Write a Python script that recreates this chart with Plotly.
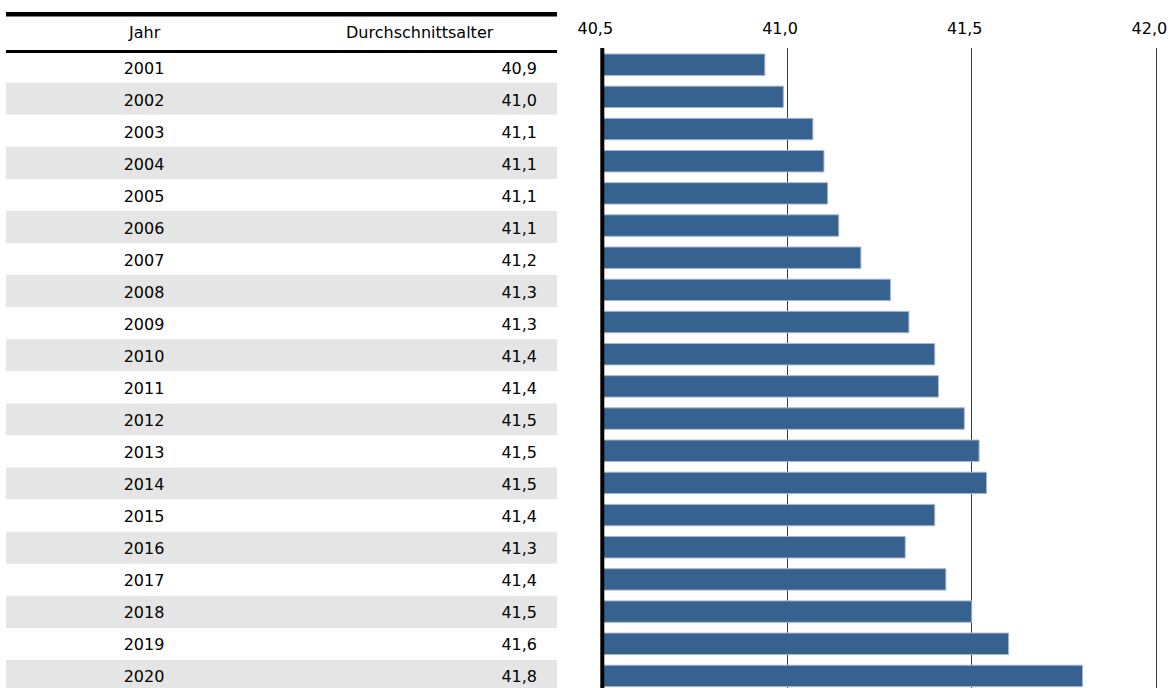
import plotly.graph_objects as go

# ---- data ----
years = [str(y) for y in range(2001, 2021)]
avg_age = [40.94, 40.99, 41.07, 41.10, 41.11, 41.14, 41.20, 41.28, 41.33, 41.40,
           41.41, 41.48, 41.52, 41.54, 41.40, 41.32, 41.43, 41.50, 41.60, 41.80]
table_labels = ["40,9", "41,0", "41,1", "41,1", "41,1", "41,1", "41,2", "41,3", "41,3", "41,4",
                "41,4", "41,5", "41,5", "41,5", "41,4", "41,3", "41,4", "41,5", "41,6", "41,8"]
header = ["Jahr", "Durchschnittsalter"]
tick_vals = [40.5, 41.0, 41.5, 42.0]

# ---- layout constants (pixels) ----
W, H = 1171, 688
FONT = "DejaVu Sans"
FS = 16
BAR_COLOR = "#37618f"
BAR_EDGE = "#a3b7d1"
STRIPE = "#e5e5e5"

x_base_px = 602.3          # pixel of 40.5
px_per_unit = 369.4
x_dom_left = 596           # plot area starts a bit left so the thick axis line is not clipped
plot_top, plot_bot = 48, 688
tbl_left, tbl_right = 6, 557
col_year_x, col_val_x = 144, 537


def px(x):
    return x / W


def py(y):
    return 1 - y / H


def cat_range(first_center_px, row_px):
    top = -(first_center_px - plot_top) / row_px
    bottom = top + (plot_bot - plot_top) / row_px
    return [bottom, top]


x_min = tick_vals[0] - (x_base_px - x_dom_left) / px_per_unit
x_max = tick_vals[0] + (W - x_base_px) / px_per_unit
n = len(years)

fig = go.Figure()

# table stripes
fig.add_trace(go.Bar(
    y=years, x=[tbl_right - tbl_left] * n, base=tbl_left, orientation="h",
    width=1.0,
    marker=dict(color=["white" if i % 2 == 0 else STRIPE for i in range(n)], line=dict(width=0)),
    xaxis="x2", yaxis="y2", hoverinfo="skip", showlegend=False,
))
# year text
fig.add_trace(go.Scatter(
    y=years, x=[col_year_x] * n, mode="text", text=years, textposition="middle center",
    textfont=dict(family=FONT, size=FS, color="#000"),
    xaxis="x2", yaxis="y3", hoverinfo="skip", showlegend=False,
))
# value text
fig.add_trace(go.Scatter(
    y=years, x=[col_val_x] * n, mode="text", text=table_labels, textposition="middle left",
    textfont=dict(family=FONT, size=FS, color="#000"),
    xaxis="x2", yaxis="y3", hoverinfo="skip", showlegend=False,
))

# bars
fig.add_trace(go.Bar(
    y=years, x=[v - tick_vals[0] for v in avg_age], base=tick_vals[0], orientation="h",
    marker=dict(color=BAR_COLOR, line=dict(color=BAR_EDGE, width=1)),
    xaxis="x", yaxis="y", showlegend=False,
    hovertemplate="%{y}: %{customdata}<extra></extra>", customdata=table_labels,
))

cat_axis = dict(
    domain=[py(plot_bot), py(plot_top)], type="category",
    categoryorder="array", categoryarray=years,
    showticklabels=False, showgrid=False, zeroline=False, ticks="",
    fixedrange=True, automargin=False,
)

fig.update_layout(
    template="none",
    width=W, height=H,
    autosize=False,
    margin=dict(l=0, r=0, t=0, b=0, pad=0),
    paper_bgcolor="white", plot_bgcolor="rgba(0,0,0,0)",
    separators=",.",
    bargap=0.335,
    showlegend=False,
    font=dict(family=FONT, size=FS, color="#000"),
    xaxis=dict(
        domain=[px(x_dom_left), 1.0], range=[x_min, x_max],
        side="top", tickvals=tick_vals, tickformat=".1f",
        showgrid=True, gridcolor="#3a3a3a", gridwidth=1,
        zeroline=False, showline=False, ticks="",
        ticklabelstandoff=10, ticklabelshift=-7,
        tickfont=dict(family=FONT, size=FS, color="#000"),
        fixedrange=True, automargin=False,
    ),
    yaxis=dict(cat_axis, range=cat_range(64.7, 32.17)),
    xaxis2=dict(
        domain=[px(tbl_left), px(tbl_right)], range=[tbl_left, tbl_right],
        visible=False, fixedrange=True, automargin=False,
    ),
    yaxis2=dict(cat_axis, range=cat_range(66.65, 32.07), visible=False, anchor="x2"),
    yaxis3=dict(cat_axis, range=cat_range(69.7, 32.0), visible=False, anchor="x2",
                overlaying="y2"),
)

# table rules
fig.add_shape(type="rect", xref="paper", yref="paper",
              x0=px(tbl_left), x1=px(tbl_right), y0=py(16.5), y1=py(12),
              fillcolor="black", line=dict(width=0), layer="above")
fig.add_shape(type="rect", xref="paper", yref="paper",
              x0=px(tbl_left), x1=px(tbl_right), y0=py(53), y1=py(50),
              fillcolor="black", line=dict(width=0), layer="above")
# axis line at 40.5
fig.add_shape(type="line", xref="x", yref="paper",
              x0=tick_vals[0], x1=tick_vals[0], y0=py(plot_bot), y1=py(plot_top),
              line=dict(color="black", width=4), layer="above")

# header texts
for label, xc in zip(header, [col_year_x, 419.5]):
    fig.add_annotation(text=label, xref="paper", yref="paper", x=px(xc), y=py(33),
                       xanchor="center", yanchor="middle", showarrow=False,
                       font=dict(family=FONT, size=FS, color="#000"))

fig.write_html(
    "out.html",
    config={"displayModeBar": False, "responsive": False},
    post_script="document.body.style.margin='0';document.body.style.overflow='hidden';",
)
